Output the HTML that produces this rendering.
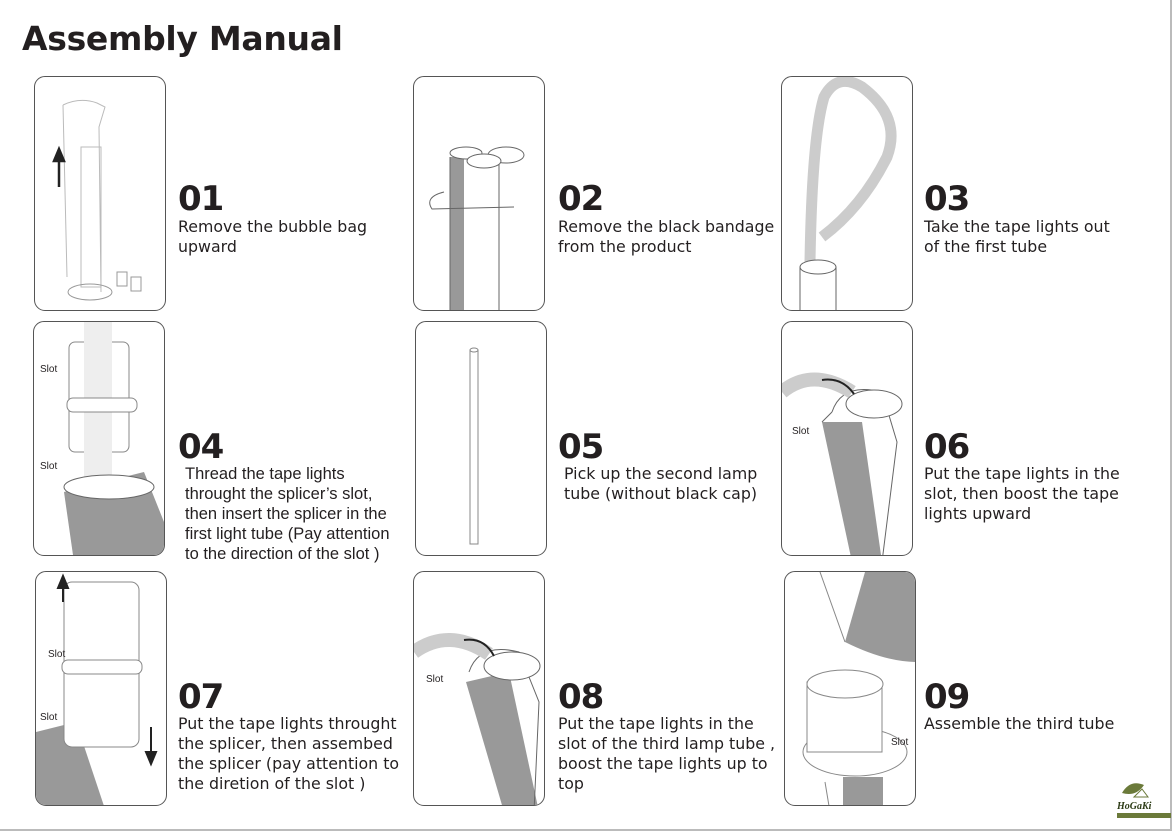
<!DOCTYPE html>
<html><head><meta charset="utf-8"><style>
body{margin:0;width:1175px;height:832px;background:#fff;position:relative;overflow:hidden;font-family:"DejaVu Sans","Liberation Sans",sans-serif;color:#231f20}
.t{position:absolute;left:22px;top:19px;font-size:33px;font-weight:bold;letter-spacing:-0.3px}
.p{position:absolute;border:1.3px solid #555;border-radius:11px;width:130px;height:233px;overflow:hidden;background:#fff}
.n{position:absolute;font-size:34px;font-weight:bold;line-height:36px;letter-spacing:-1px}
.d{position:absolute;font-size:15.8px;line-height:20px;white-space:nowrap}
.a{font-family:"Liberation Sans",sans-serif;font-size:16.5px}
.edge{position:absolute;background:#bbb}
.slot{position:absolute;font-family:"Liberation Sans",sans-serif;font-size:10px}
</style></head><body>
<div class="edge" style="left:0;top:829px;width:1172px;height:2px"></div>
<div class="edge" style="left:1170px;top:0;width:2px;height:831px"></div>
<div class="t">Assembly Manual</div>

<!-- Row1 -->
<div class="p" style="left:34px;top:76px">
<svg width="130" height="233"><path d="M28 28 Q45 20 62 26 L70 30 L64 50 L66 215 M28 28 L32 200" fill="none" stroke="#bbb"/><rect x="46" y="70" width="20" height="140" fill="none" stroke="#bbb"/><ellipse cx="55" cy="215" rx="22" ry="8" fill="none" stroke="#999"/><path d="M24 110 V80 M19 84 L24 72 L29 84Z" stroke="#222" stroke-width="2.5" fill="#222"/><rect x="82" y="195" width="10" height="14" fill="none" stroke="#999"/><rect x="96" y="200" width="10" height="14" fill="none" stroke="#999"/></svg></div>
<div class="n" style="left:178px;top:181px">01</div>
<div class="d" style="left:178px;top:217px">Remove the bubble bag<br>upward</div>

<div class="p" style="left:413px;top:76px">
<svg width="130" height="233"><rect x="36" y="80" width="14" height="160" fill="#999"/><path d="M36 80 V240 M85 80 V240" stroke="#666" fill="none"/><ellipse cx="52" cy="76" rx="16" ry="6" fill="#fff" stroke="#666"/><ellipse cx="92" cy="78" rx="18" ry="8" fill="#fff" stroke="#666"/><ellipse cx="70" cy="84" rx="17" ry="7" fill="#fff" stroke="#666"/><path d="M30 115 Q10 120 18 132 L100 130" fill="none" stroke="#666"/></svg></div>
<div class="n" style="left:558px;top:181px">02</div>
<div class="d" style="left:558px;top:217px">Remove the black bandage<br>from the product</div>

<div class="p" style="left:781px;top:76px">
<svg width="130" height="233"><path d="M28 185 Q30 60 42 20 Q55 -5 80 10 Q120 40 105 80 Q80 130 40 160" fill="none" stroke="#ccc" stroke-width="11"/><rect x="18" y="190" width="36" height="50" fill="#fff" stroke="#666"/><ellipse cx="36" cy="190" rx="18" ry="7" fill="#fff" stroke="#666"/></svg></div>
<div class="n" style="left:924px;top:181px">03</div>
<div class="d" style="left:924px;top:217px">Take the tape lights out<br>of the first tube</div>

<!-- Row2 -->
<div class="p" style="left:33px;top:321px">
<svg width="130" height="233"><rect x="35" y="20" width="60" height="110" rx="6" fill="#fff" stroke="#888"/><rect x="50" y="0" width="28" height="200" fill="#eee"/><rect x="33" y="76" width="70" height="14" rx="6" fill="#fff" stroke="#888"/><path d="M30 170 L110 150 L130 200 L130 240 L40 240 Z" fill="#999"/><ellipse cx="75" cy="165" rx="45" ry="12" fill="#fff" stroke="#666"/></svg>
<div class="slot" style="left:6px;top:42px">Slot</div><div class="slot" style="left:6px;top:139px">Slot</div></div>
<div class="n" style="left:178px;top:429px">04</div>
<div class="d a" style="left:185px;top:464px">Thread the tape lights<br>throught the splicer’s slot,<br>then insert the splicer in the<br>first light tube (Pay attention<br>to the direction of the slot )</div>

<div class="p" style="left:415px;top:321px">
<svg width="130" height="233"><rect x="54" y="28" width="8" height="194" fill="#fff" stroke="#888"/><ellipse cx="58" cy="28" rx="4" ry="2" fill="#fff" stroke="#888"/></svg></div>
<div class="n" style="left:558px;top:429px">05</div>
<div class="d" style="left:564px;top:464px">Pick up the second lamp<br>tube (without black cap)</div>

<div class="p" style="left:781px;top:321px">
<svg width="130" height="233"><path d="M40 100 L70 240 L100 240 L80 100Z" fill="#999"/><path d="M50 90 Q60 60 100 70 L115 120 L100 240 M50 90 L40 100" fill="none" stroke="#666"/><ellipse cx="92" cy="82" rx="28" ry="14" fill="#fff" stroke="#666"/><path d="M0 70 Q30 45 70 70" fill="none" stroke="#ccc" stroke-width="14"/><path d="M40 58 Q60 55 72 72" fill="none" stroke="#222" stroke-width="2"/></svg>
<div class="slot" style="left:10px;top:104px">Slot</div></div>
<div class="n" style="left:924px;top:429px">06</div>
<div class="d" style="left:924px;top:464px">Put the tape lights in the<br>slot, then boost the tape<br>lights upward</div>

<!-- Row3 -->
<div class="p" style="left:35px;top:571px">
<svg width="130" height="233"><path d="M0 160 L40 150 L70 240 L0 240Z" fill="#999"/><rect x="28" y="10" width="75" height="165" rx="8" fill="#fff" stroke="#888"/><rect x="26" y="88" width="80" height="14" rx="6" fill="#fff" stroke="#888"/><path d="M27 30 V10 M22 16 L27 4 L32 16Z M115 155 V185 M110 180 L115 192 L120 180Z" stroke="#222" stroke-width="2" fill="#222"/></svg>
<div class="slot" style="left:12px;top:77px">Slot</div><div class="slot" style="left:4px;top:140px">Slot</div></div>
<div class="n" style="left:178px;top:679px">07</div>
<div class="d" style="left:178px;top:714px">Put the tape lights throught<br>the splicer, then assembed<br>the splicer (pay attention to<br>the diretion of the slot )</div>

<div class="p" style="left:413px;top:571px">
<svg width="132" height="233"><path d="M52 110 L90 240 L125 240 L95 100Z" fill="#999"/><path d="M55 100 Q65 70 105 80 L125 130 L120 240" fill="none" stroke="#666"/><ellipse cx="98" cy="94" rx="28" ry="14" fill="#fff" stroke="#666"/><path d="M0 80 Q35 55 75 82" fill="none" stroke="#ccc" stroke-width="14"/><path d="M50 68 Q70 65 80 84" fill="none" stroke="#222" stroke-width="2"/></svg>
<div class="slot" style="left:12px;top:102px">Slot</div></div>
<div class="n" style="left:558px;top:679px">08</div>
<div class="d" style="left:558px;top:714px">Put the tape lights in the<br>slot of the third lamp tube ,<br>boost the tape lights up to<br>top</div>

<div class="p" style="left:784px;top:571px">
<svg width="132" height="233"><path d="M80 0 L132 0 L132 90 Q100 90 60 70Z" fill="#999"/><path d="M60 70 L35 0 M60 240 L60 210 M45 240 L40 210" stroke="#888" fill="none"/><rect x="58" y="205" width="40" height="35" fill="#999"/><ellipse cx="70" cy="180" rx="52" ry="24" fill="#fff" stroke="#888"/><rect x="22" y="110" width="75" height="70" fill="#fff" stroke="#888"/><ellipse cx="60" cy="112" rx="38" ry="14" fill="#fff" stroke="#888"/></svg>
<div class="slot" style="left:106px;top:165px">Slot</div></div>
<div class="n" style="left:924px;top:679px">09</div>
<div class="d" style="left:924px;top:714px">Assemble the third tube</div>

<svg style="position:absolute;left:1120px;top:779px" width="30" height="24"><path d="M2 14 Q10 0 24 6 Q16 18 2 14Z" fill="#6b7a3a"/><path d="M14 18 L22 10 L28 18Z" fill="#fff" stroke="#6b7a3a"/></svg>
<div style="position:absolute;left:1117px;top:801px;font:italic bold 10px 'Liberation Serif',serif;color:#2b3a14">HoGaKi</div>
<div style="position:absolute;left:1117px;top:813px;width:54px;height:5px;background:#6b7a3a"></div>
</body></html>
